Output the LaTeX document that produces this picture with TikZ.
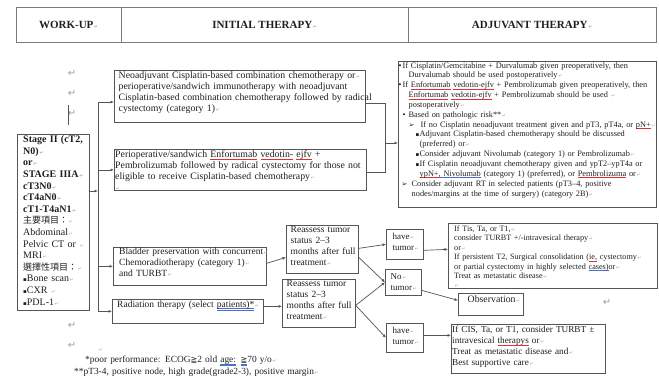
\documentclass[tikz,border=0pt]{standalone}
\usepackage{fontspec}
\setmainfont{Liberation Serif}
\newfontfamily\cjkfont{Noto Sans CJK TC}
\newfontfamily\symfont{DejaVu Sans}
\usetikzlibrary{arrows.meta,calc}

\definecolor{ink}{HTML}{1E1E1E}
\definecolor{frame}{HTML}{555555}
\definecolor{hdrgray}{HTML}{7A7A7A}
\definecolor{markgray}{HTML}{A0A0A0}
\definecolor{spellred}{HTML}{E03030}
\definecolor{gramblue}{HTML}{4A6FD0}

% font size with tight line spacing and no hyphenation
\protected\def\fsz#1#2{\fontsize{#1}{#2}\selectfont\lineskiplimit=-10pt\relax
  \hyphenpenalty=10000\exhyphenpenalty=10000\relax}
% Word paragraph mark after a line
\newcommand\parmk{{\symfont\fontsize{4.5}{4.5}\selectfont\color{markgray}\,↵}}
% indented list entry: indent, bullet box width, bullet
\newcommand\itm[3]{\hspace*{#1pt}\makebox[#2pt][l]{#3}}
\newcommand\sqb{{\symfont\fontsize{5.5}{5.5}\selectfont ▪}}
\newcommand\arw{{\symfont\fontsize{7}{7}\selectfont ➢}}
\newcommand\cjk[1]{{\cjkfont\fontsize{9}{9}\selectfont #1}}
\newcommand\geqsym{{\symfont\fontsize{8}{8}\selectfont ≧}}
% proofing underlines
\newlength\ulwd
\newcommand\ulcol[2]{\settowidth\ulwd{#2}\leavevmode\rlap{\textcolor{#1}{\rule[-1.6pt]{\ulwd}{0.5pt}}}#2}
\newcommand\splu[1]{\ulcol{spellred}{#1}}
\newcommand\grmu[1]{\ulcol{gramblue}{#1}}
\newcommand\grmuu[1]{\settowidth\ulwd{#1}\leavevmode\rlap{\textcolor{gramblue}{\rule[-1.4pt]{\ulwd}{0.4pt}\llap{\rule[-2.8pt]{\ulwd}{0.4pt}}}}#1}

\tikzset{
  box/.style={draw=frame, line width=0.7pt, inner sep=0pt, anchor=north west},
  txt/.style={anchor=north west, inner sep=0pt, align=left, text=ink,
    text width=300pt, font=\fsz{9.8}{11}},
  conn/.style={draw=frame, line width=0.7pt},
  arr/.style={conn, -{Latex[length=3.5pt,width=3pt]}},
  hcell/.style={draw=hdrgray, line width=0.7pt, minimum height=35pt, inner sep=0pt,
    text=ink, font=\fontsize{11}{13}\selectfont\bfseries},
  bigret/.style={font=\symfont\fontsize{10}{10}\selectfont, text=markgray, inner sep=0pt}
}

\begin{document}
\begin{tikzpicture}[x=1pt, y=-1pt]
\useasboundingbox (0,0) rectangle (659,380);

% ---- header row ----
\node[hcell, minimum width=105pt] (hwork) at (68.5,24.5) {WORK-UP\parmk};
\node[hcell, minimum width=287pt] (hinit) at (264.5,24.5) {INITIAL THERAPY\parmk};
\node[hcell, minimum width=248pt] (hadj) at (532,24.5) {ADJUVANT THERAPY\parmk};

% ---- stray paragraph marks and caret ----
\node[bigret] (r1) at (72,73) {↵};
\node[bigret] (r2) at (72,93) {↵};
\node[bigret] (r3) at (72,113) {↵};
\node[bigret] (r4) at (72,325) {↵};
\node[bigret] (r5) at (72,345) {↵};
\node[bigret] (r6) at (607,302) {↵};
\draw[frame, line width=0.6pt] (68,105) -- (68,125);

% ---- work-up ----
\node[box, minimum width=72pt, minimum height=176pt] (stage) at (17,134) {};
\node[txt, text width=80pt, font=\fsz{10}{11.6}] (stageT) at (23,135.5)
 {{\bfseries Stage II (cT2,\\ N0)\parmk\\ or\parmk\\ STAGE IIIA\parmk\\ cT3N0\parmk\\ cT4aN0\parmk\\ cT1-T4aN1\parmk}\\
  \cjk{主要項目：}\parmk\\ Abdominal\parmk\\ Pelvic CT or \parmk\\ MRI\parmk\\
  \cjk{選擇性項目：}\parmk\\ \sqb Bone scan\parmk\\ \sqb CXR \parmk\\ \sqb PDL-1\parmk};

% ---- initial therapy ----
\node[box, minimum width=251pt, minimum height=52pt] (neo) at (114,70) {};
\node[txt] (neoT) at (118.5,71.5)
 {Neoadjuvant Cisplatin-based combination chemotherapy or\parmk\\
  perioperative/sandwich immunotherapy with neoadjuvant\\
  Cisplatin-based combination chemotherapy followed by radical\\
  cystectomy (category 1)\parmk};

\node[box, minimum width=252pt, minimum height=41pt] (peri) at (114,149) {};
\node[txt] (periT) at (115,150.5)
 {Perioperative/sandwich \splu{Enfortumab} \splu{vedotin-} \splu{ejfv} +\\
  Pembrolizumab followed by radical cystectomy for those not\\
  eligible to receive Cisplatin-based chemotherapy\parmk\\
  \parmk};

\node[box, minimum width=153pt, minimum height=38pt] (bladder) at (113,247) {};
\node[txt, font=\fsz{9.5}{11}] (bladderT) at (119,248)
 {Bladder preservation with concurrent\parmk\\
  Chemoradiotherapy (category 1)\parmk\\
  and TURBT\parmk};

\node[box, minimum width=151pt, minimum height=24pt] (rad) at (112,299) {};
\node[txt, font=\fsz{9.5}{11}] (radT) at (117,300.5)
 {Radiation therapy (select \grmuu{patients)*}\parmk};

\node[box, minimum width=72pt, minimum height=48pt] (reA) at (286,225) {};
\node[txt, font=\fsz{9.5}{11}] (reAT) at (290.5,226.5)
 {Reassess tumor\\ status 2–3\\ months after full\\ treatment\parmk};

\node[box, minimum width=73pt, minimum height=48pt] (reB) at (282,279) {};
\node[txt, font=\fsz{9.5}{11}] (reBT) at (286.5,280.5)
 {Reassess tumor\\ status 2–3\\ months after full\\ treatment\parmk};

\node[box, minimum width=37pt, minimum height=30pt] (haveA) at (386,229) {};
\node[txt, font=\fsz{9}{11.5}] (haveAT) at (392.5,233)
 {have\parmk\\ tumor\parmk};

\node[box, minimum width=36pt, minimum height=26pt] (notum) at (385,269) {};
\node[txt, font=\fsz{9}{11.5}] (notumT) at (390.5,273)
 {No\parmk\\ tumor\parmk};

\node[box, minimum width=37pt, minimum height=29pt] (haveB) at (386,323) {};
\node[txt, font=\fsz{9}{11.5}] (haveBT) at (392.5,327)
 {have\parmk\\ tumor\parmk};

% ---- adjuvant therapy ----
\node[box, minimum width=258pt, minimum height=146pt] (adj) at (398,61) {};
\node[txt, font=\fsz{8.3}{9.85}] (adjT) at (398.5,62)
 {\itm{0}{4}{•}If Cisplatin/Gemcitabine + Durvalumab given preoperatively, then\\
  \hspace*{10pt}Durvalumab should be used postoperatively\parmk\\
  \itm{0}{4}{•}If \splu{Enfortumab} \splu{vedotin-ejfv} + Pembrolizumab given preoperatively, then\\
  \hspace*{10pt}\splu{Enfortumab} \splu{vedotin-ejfv} + Pembrolizumab should be used \parmk\\
  \hspace*{10pt}postoperatively\parmk\\
  \itm{4}{6}{•}Based on pathologic risk**\parmk\\
  \itm{10}{12}{\arw}If no Cisplatin neoadjuvant treatment given and pT3, pT4a, or \splu{pN+}\parmk\\
  \itm{17}{4}{\sqb}Adjuvant Cisplatin-based chemotherapy should be discussed\\
  \hspace*{21pt}(preferred) or\parmk\\
  \itm{17}{4}{\sqb}Consider adjuvant Nivolumab (category 1) or Pembrolizumab\parmk\\
  \itm{17}{4}{\sqb}If Cisplatin neoadjuvant chemotherapy given and ypT2–ypT4a or\\
  \hspace*{21pt}\splu{ypN+}\grmu{, Nivolumab} (category 1) (preferred), or \splu{Pembrolizuma} or\parmk\\
  \itm{3}{10}{\arw}Consider adjuvant RT in selected patients (pT3–4, positive\\
  \hspace*{13pt}nodes/margins at the time of surgery) (category 2B)\parmk};

\node[box, minimum width=209pt, minimum height=65pt] (turbt) at (448,223) {};
\node[txt, font=\fsz{8.15}{9.4}] (turbtT) at (454,225.5)
 {If Tis, Ta, or T1,\parmk\\
  consider TURBT +/-intravesical therapy\parmk\\
  or\parmk\\
  If persistent T2, Surgical consolidation (\splu{ie,} cystectomy\parmk\\
  or partial cystectomy in highly selected \grmu{cases)}or\parmk\\
  Treat as metastatic disease\parmk\\
  \parmk};

\node[box, minimum width=65pt, minimum height=22pt] (obs) at (458,293) {};
\node[txt] (obsT) at (467.5,295.5) {Observation\parmk};

\node[box, minimum width=154pt, minimum height=49pt] (cis) at (451,324) {};
\node[txt, font=\fsz{9.2}{11}] (cisT) at (452,326)
 {If CIS, Ta, or T1, consider TURBT ±\\
  intravesical \splu{therapys} or\parmk\\
  Treat as metastatic disease and\parmk\\
  Best supportive care\parmk};

% ---- footnotes ----
\node[txt] (fn0) at (98,348) {\parmk};
\node[txt, font=\fsz{9.4}{11.5}] (fn) at (74,356)
 {\hspace*{11pt}*poor performance: ECOG\geqsym2 old \grmuu{age:} \grmuu{\geqsym}70 y/o\parmk\\
  {}**pT3-4, positive node, high grade(grade2-3), positive margin\parmk};

% ---- connectors ----
\coordinate (bus) at (98,191);
\coordinate (busT) at (98,102);
\coordinate (join) at (385,143);
\draw[arr] (stage.east |- bus) -- (bus);
\draw[conn] (busT) -- (bus |- rad.west);
\draw[arr] (busT) -- (busT -| neo.west);
\draw[arr] (bus |- peri.west) -- (peri.west);
\draw[arr] (bus |- bladder.west) -- (bladder.west);
\draw[arr] (bus |- rad.west) -- (rad.west);

\draw[conn] ([yshift=-7pt]neo.east) -| (join);
\draw[conn] ([yshift=-2.5pt]peri.east) -| (join);
\draw[arr] (join) -- (join -| adj.west);

\draw[arr] ([yshift=3pt]bladder.east) -- ([yshift=-8pt]reA.west);
\draw[arr] ([yshift=5pt]rad.east) -- ([yshift=-3pt]reB.west);
\draw[arr] ([yshift=1pt]reA.east) -- (haveA.west);
\draw[arr] ([yshift=-8pt]reA.east) -- (notum.west);
\draw[arr] ([yshift=-2pt]reB.east) -- (notum.west);
\draw[arr] ([yshift=-2pt]reB.east) -- (haveB.west);
\draw[arr] ([yshift=-6pt]haveA.east) -- ([yshift=6.5pt]turbt.west);
\draw[arr] ([yshift=-8pt]notum.east) -- ([yshift=4pt]obs.west);
\draw[arr] ([yshift=2.5pt]haveB.east) -- ([yshift=13.5pt]cis.west);
\end{tikzpicture}
\end{document}
